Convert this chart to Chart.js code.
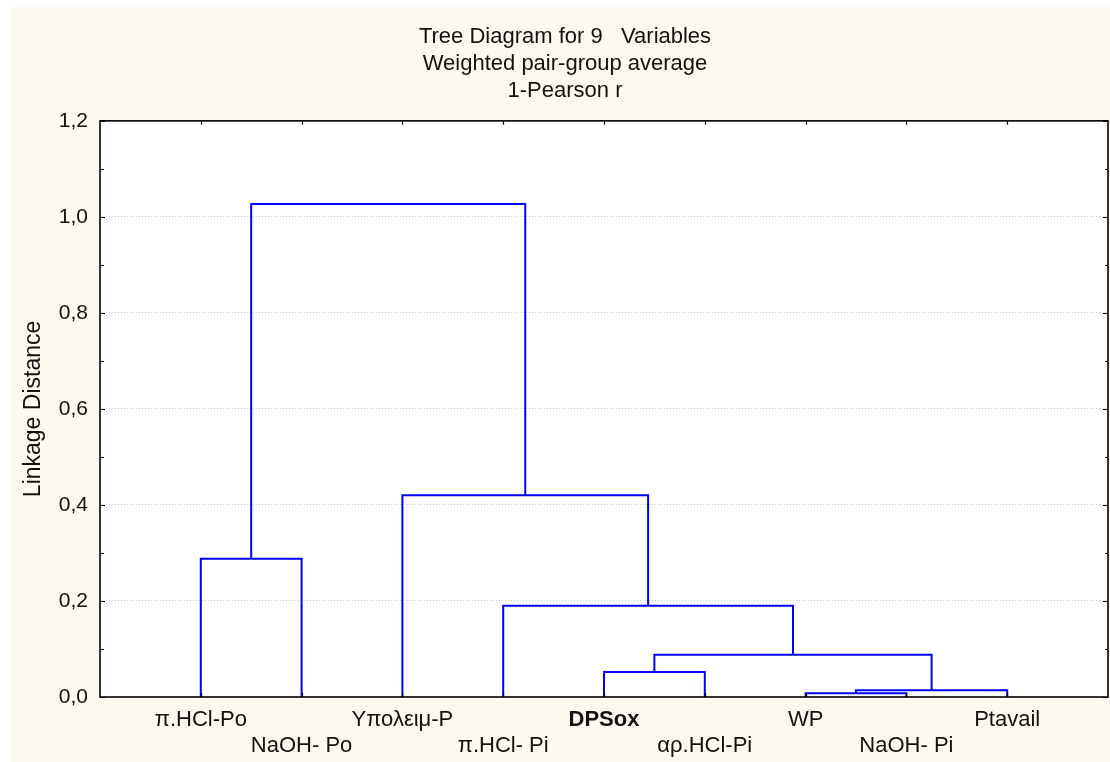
<!DOCTYPE html>
<html>
<head>
<meta charset="utf-8">
<title>Tree Diagram for 9 Variables</title>
<script src="https://cdn.jsdelivr.net/npm/chart.js@4.4.1/dist/chart.umd.min.js"></script>
<style>
  html, body { margin: 0; padding: 0; background: #ffffff; }
  canvas { display: block; }
</style>
</head>
<body>
<canvas id="tree" width="1110" height="762"></canvas>
<script>
// Leaf variables, in the order they appear along the horizontal axis
const variables = ['π.HCl-Po', 'NaOH- Po', 'Υπολειμ-P', 'π.HCl- Pi', 'DPSox', 'αρ.HCl-Pi', 'WP', 'NaOH- Pi', 'Ptavail'];
const emphasized = ['DPSox'];

// Agglomeration steps: indices < 9 are leaves, 9 + k is the cluster made at step k
const joinLeft   = [6, 9, 4, 11, 3, 0, 2, 14];
const joinRight  = [7, 8, 5, 10, 12, 1, 13, 15];
const joinHeight = [0.008, 0.014, 0.052, 0.088, 0.190, 0.288, 0.420, 1.027];

// Linkage-distance axis
const distanceTicks = [0, 0.2, 0.4, 0.6, 0.8, 1.0, 1.2];

const titleLines = ['Tree Diagram for 9   Variables', 'Weighted pair-group average', '1-Pearson r'];
const FONT = 'Arial, "Liberation Sans", Helvetica, sans-serif';
const n = variables.length;

// Node position / height lookup built from the join table
const nodeX = variables.map((_, i) => i + 1);
const nodeH = variables.map(() => 0);
const links = [];
for (let k = 0; k < joinHeight.length; k++) {
  const a = joinLeft[k], b = joinRight[k], h = joinHeight[k];
  links.push([
    { x: nodeX[a], y: nodeH[a] },
    { x: nodeX[a], y: h },
    { x: nodeX[b], y: h },
    { x: nodeX[b], y: nodeH[b] }
  ]);
  nodeX.push((nodeX[a] + nodeX[b]) / 2);
  nodeH.push(h);
}

const datasets = links.map((pts, k) => ({
  label: 'join ' + (k + 1),
  data: pts,
  showLine: true,
  borderColor: '#0000ff',
  borderWidth: 2,
  pointRadius: 0,
  pointHoverRadius: 0,
  tension: 0,
  fill: false,
  borderJoinStyle: 'miter'
}));

const fmt = v => v.toFixed(1).replace('.', ',');

// Page and plot backgrounds
const backdrop = {
  id: 'backdrop',
  beforeDraw(chart) {
    const { ctx, chartArea: a, width, height } = chart;
    ctx.save();
    ctx.fillStyle = '#ffffff';
    ctx.fillRect(0, 0, width, height);
    ctx.fillStyle = '#fdf9ef';
    ctx.fillRect(11, 7, width - 11, height - 7);
    ctx.fillStyle = '#ffffff';
    ctx.fillRect(a.left, a.top, a.right - a.left, a.bottom - a.top);
    ctx.restore();
  }
};

// Closed frame with inward tick marks on all four sides
const frame = {
  id: 'frame',
  afterDatasetsDraw(chart) {
    const { ctx, chartArea: a, scales: { x, y } } = chart;
    ctx.save();
    ctx.setLineDash([]);
    ctx.strokeStyle = '#000000';
    ctx.lineWidth = 1.2;
    ctx.beginPath();
    for (let v = 0; v <= 12; v++) {
      const py = Math.round(y.getPixelForValue(v / 10)) + 0.5;
      const major = v % 2 === 0;
      ctx.moveTo(a.left, py); ctx.lineTo(a.left + (major ? 5 : 4), py);
      ctx.moveTo(a.right, py); ctx.lineTo(a.right - (major ? 5 : 3), py);
    }
    for (let i = 1; i <= n; i++) {
      const px = Math.round(x.getPixelForValue(i)) + 0.5;
      ctx.moveTo(px, a.bottom); ctx.lineTo(px, a.bottom - 4);
      ctx.moveTo(px, a.top); ctx.lineTo(px, a.top + 4);
    }
    ctx.stroke();
    ctx.lineWidth = 1.6;
    ctx.strokeRect(a.left, a.top, a.right - a.left, a.bottom - a.top);
    ctx.restore();
  }
};

new Chart(document.getElementById('tree'), {
  type: 'scatter',
  data: { datasets },
  options: {
    responsive: false,
    animation: false,
    events: [],
    layout: { padding: { left: 22, right: 2, top: 0, bottom: 0 } },
    plugins: {
      legend: { display: false },
      tooltip: { enabled: false },
      title: {
        display: true,
        text: titleLines,
        color: '#111111',
        font: { family: FONT, size: 22, weight: 'normal', lineHeight: 1.21 },
        padding: { top: 24, bottom: 17 }
      }
    },
    scales: {
      x: {
        type: 'linear',
        min: 0,
        max: n + 1,
        afterBuildTicks(scale) {
          scale.ticks = variables.map((_, i) => ({ value: i + 1 }));
        },
        afterFit(scale) { scale.height = 65; },
        grid: { display: false, drawTicks: false },
        border: { display: false },
        ticks: {
          autoSkip: false,
          maxRotation: 0,
          padding: 10,
          color: '#111111',
          font(ctx) {
            const name = ctx.tick ? variables[ctx.tick.value - 1] : '';
            return {
              family: FONT, size: 22, lineHeight: 1.18,
              weight: emphasized.includes(name) ? 'bold' : 'normal'
            };
          },
          callback(value) {
            const i = Math.round(value) - 1;
            const name = variables[i];
            return i % 2 === 0 ? [name, ''] : ['', name];
          }
        }
      },
      y: {
        type: 'linear',
        min: distanceTicks[0],
        max: distanceTicks[distanceTicks.length - 1],
        afterBuildTicks(scale) {
          scale.ticks = distanceTicks.map(v => ({ value: v }));
        },
        afterFit(scale) { scale.width = 78; },
        grid: {
          drawTicks: false,
          color(ctx) {
            const v = ctx.tick ? ctx.tick.value : 0;
            return (v > 0.01 && v < 1.19) ? '#c8c8c8' : 'rgba(0,0,0,0)';
          },
          lineWidth: 1
        },
        // dotted horizontal grid
        border: { display: false, dash: [1, 2] },
        ticks: {
          padding: 12,
          color: '#111111',
          font: { family: FONT, size: 21 },
          callback: v => fmt(v)
        },
        title: {
          display: true,
          text: 'Linkage Distance',
          color: '#111111',
          font: { family: FONT, size: 23, lineHeight: 1.0 },
          padding: { top: 0, bottom: 0 }
        }
      }
    }
  },
  plugins: [backdrop, frame]
});
</script>
</body>
</html>
